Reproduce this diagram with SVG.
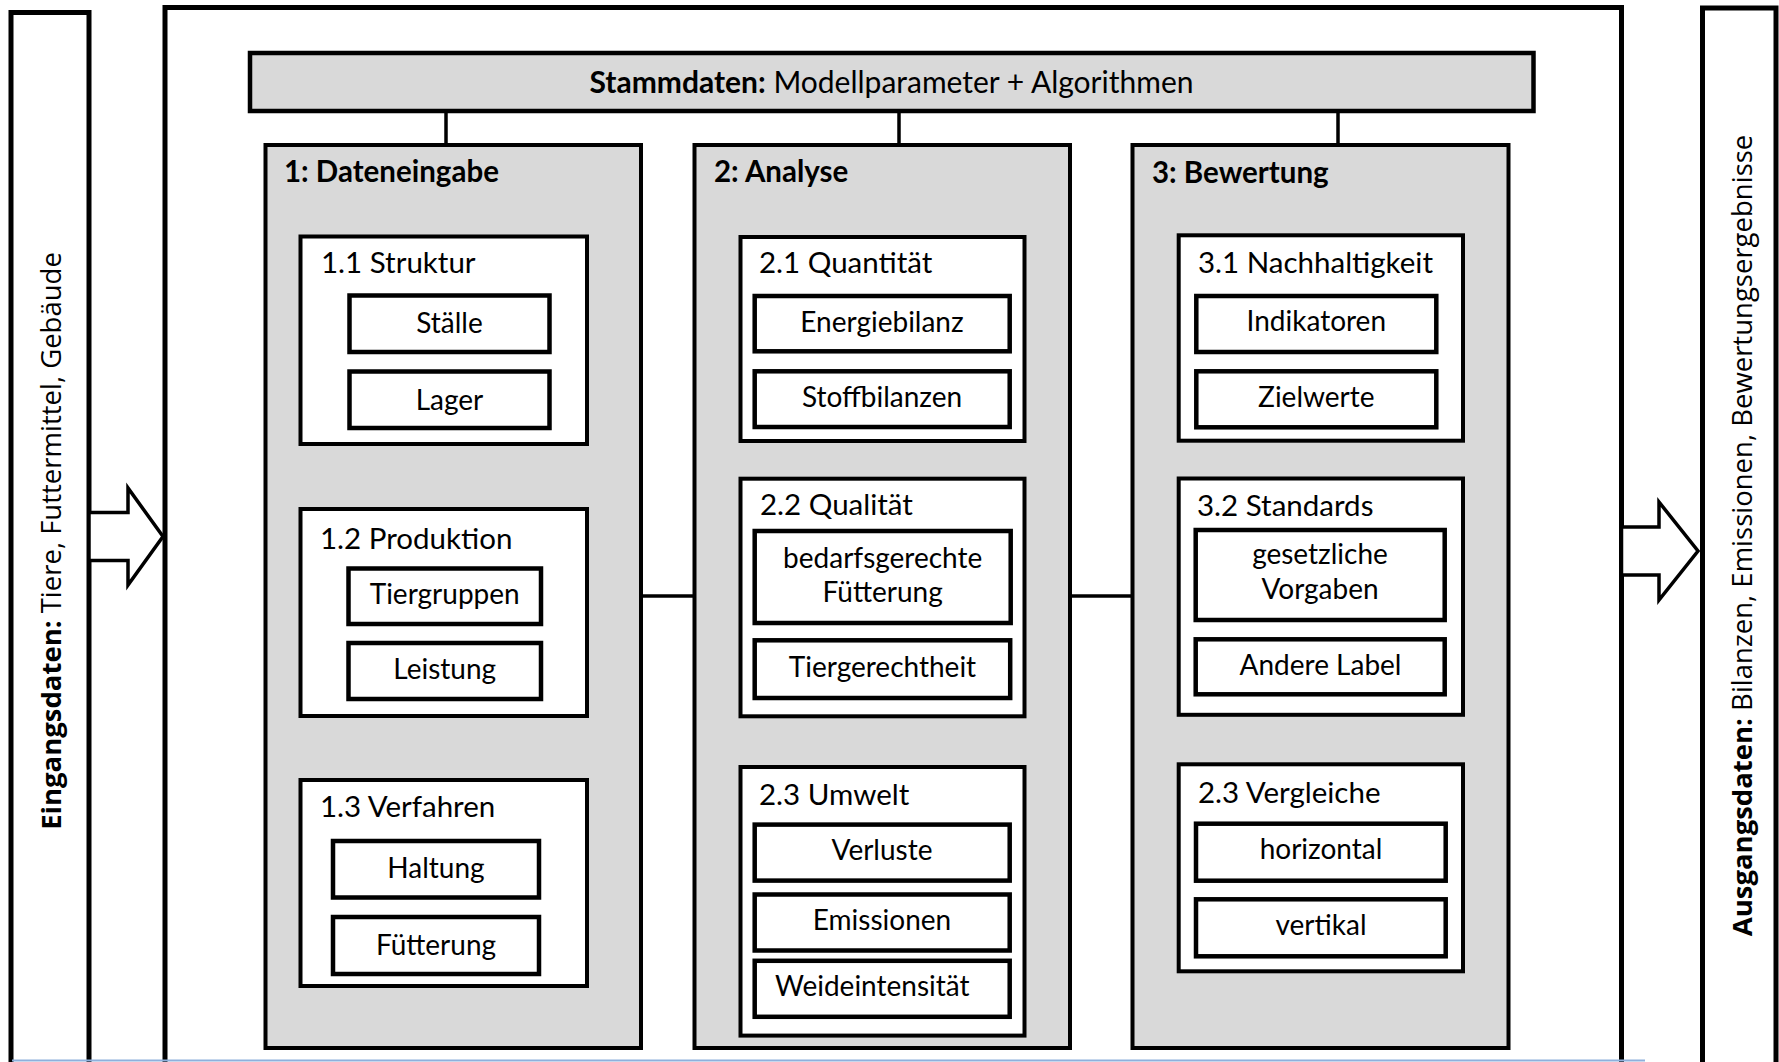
<svg xmlns="http://www.w3.org/2000/svg" width="1779" height="1062" viewBox="0 0 1779 1062">
<style>
.frame{fill:#fff;stroke:#000;stroke-width:5}
.col{fill:#d9d9d9;stroke:#000;stroke-width:4}
.grp{fill:#fff;stroke:#000;stroke-width:4}
.item{fill:#fff;stroke:#000;stroke-width:4.5}
.bar{fill:#d9d9d9;stroke:#000;stroke-width:4.5}
.conn{stroke:#000;stroke-width:3.5;fill:none}
.arrow{fill:#fff;stroke:#000;stroke-width:3.5;stroke-linejoin:miter}
text{font-family:Lato,"Liberation Sans",sans-serif;fill:#000}
.t{font-size:28px}
.h{font-size:29.5px}
.c{text-anchor:middle}
.b{font-weight:bold}
.side{font-family:"Open Sans","DejaVu Sans",sans-serif;font-size:27.5px;text-anchor:middle}
</style>
<rect x="0" y="0" width="1779" height="1062" fill="#fff"/>
<g id="input">
<rect class="frame" x="11" y="12.5" width="78" height="1070"/>
<text class="side" transform="translate(61,541) rotate(-90)"><tspan font-weight="bold">Eingangsdaten:</tspan> Tiere, Futtermittel, Gebäude</text>
</g>
<g id="main">
<rect class="frame" x="165" y="7.5" width="1456.5" height="1070"/>
</g>
<g id="output">
<rect class="frame" x="1702.5" y="8" width="73.5" height="1070"/>
<text class="side" transform="translate(1752,535.5) rotate(-90)"><tspan font-weight="bold">Ausgangsdaten:</tspan> Bilanzen, Emissionen, Bewertungsergebnisse</text>
</g>
<g id="connectors">
<polygon class="arrow" points="89,512.5 128,512.5 128,488 163,536.5 128,585 128,560.5 89,560.5"/>
<polygon class="arrow" points="1621.5,527 1659,527 1659,502 1698,551 1659,600 1659,575 1621.5,575"/>
<line class="conn" x1="446" y1="111" x2="446" y2="145"/>
<line class="conn" x1="899" y1="111" x2="899" y2="145"/>
<line class="conn" x1="1338" y1="111" x2="1338" y2="145"/>
<line class="conn" x1="641" y1="596" x2="694.5" y2="596"/>
<line class="conn" x1="1070" y1="596" x2="1132.5" y2="596"/>
</g>
<g id="stammdaten">
<rect class="bar" x="250" y="53" width="1283.5" height="58"/>
<text class="c" x="891.5" y="93" style="font-size:30px"><tspan class="b">Stammdaten:</tspan> Modellparameter + Algorithmen</text>
</g>
<g id="col1">
<rect class="col" x="265.5" y="145" width="375.5" height="903"/>
<text class="h b" x="284" y="182">1: Dateneingabe</text>
</g>
<g id="g11">
<rect class="grp" x="300.5" y="236.5" width="286.5" height="207.5"/>
<text class="h" x="321" y="273">1.1 Struktur</text>
</g>
<g id="staelle"><rect class="item" x="349.5" y="295.5" width="200" height="56.5"/><text class="t c" x="449.5" y="333">Ställe</text></g>
<g id="lager"><rect class="item" x="349.5" y="371.5" width="200" height="56.5"/><text class="t c" x="449.5" y="410">Lager</text></g>
<g id="g12">
<rect class="grp" x="300.5" y="509" width="286.5" height="207"/>
<text class="h" x="320" y="549">1.2 Produktion</text>
</g>
<g id="tiergruppen"><rect class="item" x="348.5" y="568.5" width="192.5" height="55.5"/><text class="t c" x="444.7" y="604">Tiergruppen</text></g>
<g id="leistung"><rect class="item" x="348.5" y="643" width="192.5" height="56"/><text class="t c" x="444.7" y="679">Leistung</text></g>
<g id="g13">
<rect class="grp" x="300.5" y="780" width="286.5" height="206"/>
<text class="h" x="320" y="817">1.3 Verfahren</text>
</g>
<g id="haltung"><rect class="item" x="333" y="841" width="206" height="56.5"/><text class="t c" x="436" y="878">Haltung</text></g>
<g id="fuetterung1"><rect class="item" x="333" y="917" width="206" height="57"/><text class="t c" x="436" y="954.5">Fütterung</text></g>
<g id="col2">
<rect class="col" x="694.5" y="145" width="375.5" height="903"/>
<text class="h b" x="714" y="182">2: Analyse</text>
</g>
<g id="g21">
<rect class="grp" x="740.5" y="237" width="284" height="204"/>
<text class="h" x="759" y="273">2.1 Quantität</text>
</g>
<g id="energie"><rect class="item" x="754.7" y="296" width="255" height="55.3"/><text class="t c" x="882" y="332">Energiebilanz</text></g>
<g id="stoff"><rect class="item" x="754.7" y="371.3" width="255" height="55.7"/><text class="t c" x="882" y="407">Stoffbilanzen</text></g>
<g id="g22">
<rect class="grp" x="740.5" y="478.7" width="284" height="237.6"/>
<text class="h" x="760" y="515">2.2 Qualität</text>
</g>
<g id="bedarf"><rect class="item" x="754.7" y="531" width="256" height="92"/><text class="t c" x="882.7" y="568">bedarfsgerechte</text><text class="t c" x="882.7" y="602">Fütterung</text></g>
<g id="tiergerecht"><rect class="item" x="754.7" y="640.3" width="255.5" height="57.7"/><text class="t c" x="882.5" y="677">Tiergerechtheit</text></g>
<g id="g23">
<rect class="grp" x="740.5" y="767" width="284" height="268.6"/>
<text class="h" x="759" y="805">2.3 Umwelt</text>
</g>
<g id="verluste"><rect class="item" x="754.7" y="824.6" width="255" height="56"/><text class="t c" x="882" y="860">Verluste</text></g>
<g id="emissionen"><rect class="item" x="754.7" y="894.5" width="255" height="56"/><text class="t c" x="882" y="930">Emissionen</text></g>
<g id="weide"><rect class="item" x="754.7" y="960.8" width="255" height="56"/><text class="t" x="775" y="996">Weideintensität</text></g>
<g id="col3">
<rect class="col" x="1132.5" y="145" width="376" height="903"/>
<text class="h b" x="1152" y="183">3: Bewertung</text>
</g>
<g id="g31">
<rect class="grp" x="1178.7" y="235.3" width="284.3" height="205.4"/>
<text class="h" x="1198" y="273">3.1 Nachhaltigkeit</text>
</g>
<g id="indikatoren"><rect class="item" x="1196.3" y="296" width="240" height="56"/><text class="t c" x="1316.3" y="331">Indikatoren</text></g>
<g id="zielwerte"><rect class="item" x="1196.3" y="371.3" width="240" height="56"/><text class="t c" x="1316.3" y="407">Zielwerte</text></g>
<g id="g32">
<rect class="grp" x="1178.7" y="478.5" width="284.3" height="236.3"/>
<text class="h" x="1197" y="516">3.2 Standards</text>
</g>
<g id="gesetz"><rect class="item" x="1195.7" y="530" width="249" height="90"/><text class="t c" x="1320" y="564">gesetzliche</text><text class="t c" x="1320" y="599">Vorgaben</text></g>
<g id="andere"><rect class="item" x="1195.7" y="639.3" width="249" height="55"/><text class="t c" x="1320.5" y="674.5">Andere Label</text></g>
<g id="g33">
<rect class="grp" x="1178.7" y="764.3" width="284.3" height="207"/>
<text class="h" x="1198" y="803">2.3 Vergleiche</text>
</g>
<g id="horizontal"><rect class="item" x="1196" y="823.7" width="249.7" height="57"/><text class="t c" x="1321" y="859">horizontal</text></g>
<g id="vertikal"><rect class="item" x="1196" y="899.3" width="249.7" height="57"/><text class="t c" x="1321" y="935">vertikal</text></g>
<line x1="12" y1="1060.5" x2="1645" y2="1060.5" stroke="#8eb0dc" stroke-width="2"/>
</svg>
